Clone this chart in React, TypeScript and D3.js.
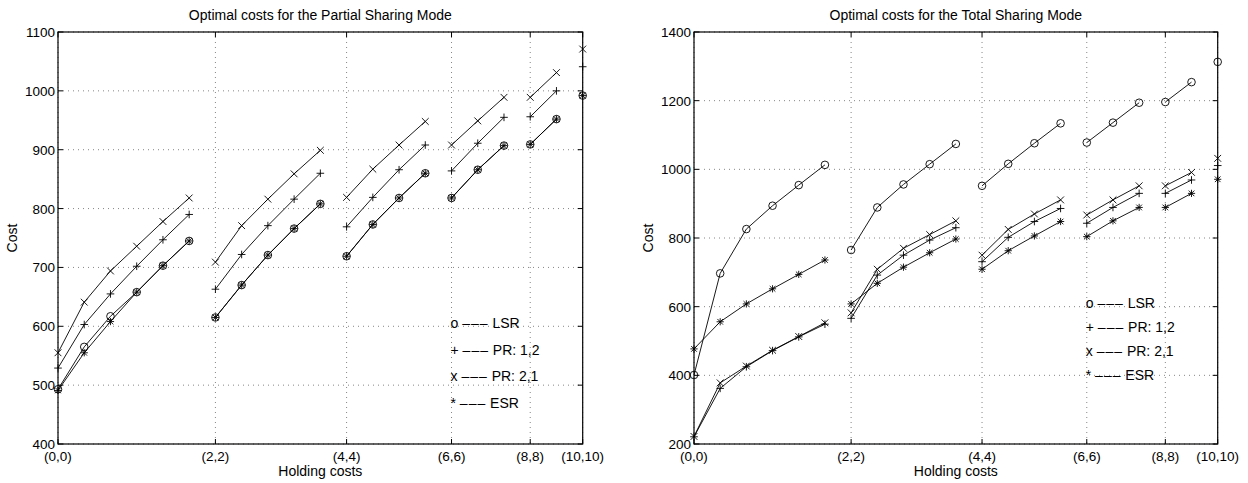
import React from "react";
import * as d3 from "d3";

// Holding cost groups: (h,h) .. (h,10) -> group sizes
const groupSizes = [6, 5, 4, 3, 2, 1];
const xTickLabels = ["(0,0)", "(2,2)", "(4,4)", "(6,6)", "(8,8)", "(10,10)"];

// Partial Sharing Mode
const lsrPartial = [493, 565, 617, 658, 703, 745, 615, 670, 721, 766, 808, 719, 773, 818, 860, 818, 866, 907, 909, 952, 992];
const pr12Partial = [529, 603, 655, 702, 747, 790, 663, 722, 771, 816, 860, 769, 819, 866, 908, 864, 911, 955, 956, 1000, 1041];
const pr21Partial = [555, 641, 694, 736, 778, 818, 709, 771, 816, 859, 899, 819, 867, 908, 948, 908, 949, 989, 989, 1031, 1071];
const esrPartial = [491, 555, 608, 658, 703, 745, 615, 670, 721, 766, 808, 719, 773, 818, 860, 818, 866, 907, 909, 952, 992];

// Total Sharing Mode
const lsrTotal = [401, 697, 826, 894, 954, 1013, 765, 889, 956, 1015, 1074, 952, 1016, 1076, 1134, 1078, 1136, 1194, 1196, 1254, 1313];
const pr12Total = [221, 362, 425, 472, 512, 549, 566, 692, 750, 794, 830, 731, 802, 848, 886, 843, 889, 930, 930, 969, 1011];
const pr21Total = [222, 378, 427, 473, 513, 553, 582, 709, 770, 810, 850, 750, 825, 870, 911, 867, 911, 952, 952, 991, 1032];
const esrTotal = [477, 556, 608, 652, 694, 736, 608, 668, 715, 757, 797, 709, 763, 806, 848, 804, 850, 889, 889, 930, 971];

const partialYTicks = [400, 500, 600, 700, 800, 900, 1000, 1100];
const totalYTicks = [200, 400, 600, 800, 1000, 1200, 1400];

const legendSymbols = ["o", "+", "x", "*"];
const legendNames = ["LSR", "PR: 1,2", "PR: 2,1", "ESR"];

const FONT = "'Liberation Sans', Arial, Helvetica, sans-serif";

type MarkerKind = "o" | "+" | "x" | "*";

function markerPath(kind: MarkerKind, x: number, y: number): string {
  const p = d3.path();
  if (kind === "o") {
    const r = 3.8;
    p.moveTo(x + r, y);
    p.arc(x, y, r, 0, Math.PI * 2);
  } else if (kind === "+") {
    const s = 3.8;
    p.moveTo(x - s, y); p.lineTo(x + s, y);
    p.moveTo(x, y - s); p.lineTo(x, y + s);
  } else if (kind === "x") {
    const s = 3.4;
    p.moveTo(x - s, y - s); p.lineTo(x + s, y + s);
    p.moveTo(x - s, y + s); p.lineTo(x + s, y - s);
  } else {
    const s = 3.6;
    const d = s * 0.78;
    p.moveTo(x - s, y); p.lineTo(x + s, y);
    p.moveTo(x, y - s); p.lineTo(x, y + s);
    p.moveTo(x - d, y - d); p.lineTo(x + d, y + d);
    p.moveTo(x - d, y + d); p.lineTo(x + d, y - d);
  }
  return p.toString();
}

interface Series { kind: MarkerKind; values: number[]; }

interface PanelProps {
  title: string;
  left: number; right: number; top: number; bottom: number;
  yDomain: [number, number];
  yTicks: number[];
  series: Series[];
  legendYs: number[];
  yLabelX: number;
}

function Panel(props: PanelProps) {
  const { title, left, right, top, bottom, yDomain, yTicks, series, legendYs, yLabelX } = props;
  const n = groupSizes.reduce((a, b) => a + b, 0);
  const x = d3.scaleLinear().domain([0, n - 1]).range([left, right]);
  const y = d3.scaleLinear().domain(yDomain).range([bottom, top]);

  const starts: number[] = [];
  let acc = 0;
  for (const g of groupSizes) { starts.push(acc); acc += g; }
  const tickIdx = starts.map((s, i) => (i === starts.length - 1 ? n - 1 : s));

  const line = d3.line<[number, number]>().x(d => x(d[0])).y(d => y(d[1]));
  const tickLen = 5;
  const cx = (left + right) / 2;
  const cy = (top + bottom) / 2;

  return (
    <g>
      {yTicks.map(t => (
        <line key={"gy" + t} x1={left} x2={right} y1={y(t)} y2={y(t)} stroke="#666" strokeWidth={0.8} strokeDasharray="1,4" />
      ))}
      {tickIdx.map(t => (
        <line key={"gx" + t} x1={x(t)} x2={x(t)} y1={top} y2={bottom} stroke="#666" strokeWidth={0.8} strokeDasharray="1,4" />
      ))}
      {yTicks.map(t => (
        <g key={"ty" + t}>
          <line x1={left} x2={left + tickLen} y1={y(t)} y2={y(t)} stroke="#000" strokeWidth={1} />
          <line x1={right} x2={right - tickLen} y1={y(t)} y2={y(t)} stroke="#000" strokeWidth={1} />
          <text x={left - 3} y={y(t) + 5} textAnchor="end" fontSize={13.5} fontFamily={FONT} fill="#000">{t}</text>
        </g>
      ))}
      {tickIdx.map((t, i) => (
        <g key={"tx" + t}>
          <line x1={x(t)} x2={x(t)} y1={bottom} y2={bottom - tickLen} stroke="#000" strokeWidth={1} />
          <line x1={x(t)} x2={x(t)} y1={top} y2={top + tickLen} stroke="#000" strokeWidth={1} />
          <text x={x(t)} y={bottom + 17} textAnchor="middle" fontSize={13.5} fontFamily={FONT} fill="#000">{xTickLabels[i]}</text>
        </g>
      ))}
      <rect x={left} y={top} width={right - left} height={bottom - top} fill="none" stroke="#000" strokeWidth={1.2} />
      {series.map((s, si) => (
        <g key={"s" + si}>
          {starts.map((st, gi) => {
            const pts: [number, number][] = [];
            for (let k = 0; k < groupSizes[gi]; k++) pts.push([st + k, s.values[st + k]]);
            return pts.length > 1 ? (
              <path key={"l" + gi} d={line(pts) || ""} fill="none" stroke="#000" strokeWidth={0.9} />
            ) : null;
          })}
          {s.values.map((v, i) => (
            <path key={"m" + i} d={markerPath(s.kind, x(i), y(v))} fill="none" stroke="#000" strokeWidth={0.9} />
          ))}
        </g>
      ))}
      {legendSymbols.map((sym, i) => (
        <text key={"lg" + i} x={x(starts[3]) - 1} y={y(legendYs[i]) + 5} fontSize={14} fontFamily={FONT} fill="#000">
          {sym + " "}
          <tspan letterSpacing={1}>{"–––"}</tspan>
          {" " + legendNames[i]}
        </text>
      ))}
      <text x={cx} y={top - 12} textAnchor="middle" fontSize={14} fontFamily={FONT} fill="#000">{title}</text>
      <text x={cx} y={bottom + 32} textAnchor="middle" fontSize={14} fontFamily={FONT} fill="#000">Holding costs</text>
      <text transform={`translate(${yLabelX},${cy}) rotate(-90)`} textAnchor="middle" fontSize={14} fontFamily={FONT} fill="#000">Cost</text>
    </g>
  );
}

export default function App() {
  return (
    <svg width={1248} height={483} style={{ position: "absolute", left: 0, top: 0, background: "#fff" }}>
      <rect width={1248} height={483} fill="#fff" />
      <Panel
        title="Optimal costs for the Partial Sharing Mode"
        left={58} right={582.7} top={32} bottom={444}
        yDomain={[400, 1100]} yTicks={partialYTicks}
        series={[
          { kind: "o", values: lsrPartial },
          { kind: "+", values: pr12Partial },
          { kind: "x", values: pr21Partial },
          { kind: "*", values: esrPartial },
        ]}
        legendYs={[605, 560, 515, 470]}
        yLabelX={17}
      />
      <Panel
        title="Optimal costs for the Total Sharing Mode"
        left={694} right={1217.7} top={32} bottom={444}
        yDomain={[200, 1400]} yTicks={totalYTicks}
        series={[
          { kind: "o", values: lsrTotal },
          { kind: "+", values: pr12Total },
          { kind: "x", values: pr21Total },
          { kind: "*", values: esrTotal },
        ]}
        legendYs={[610, 540, 470, 400]}
        yLabelX={653}
      />
    </svg>
  );
}
